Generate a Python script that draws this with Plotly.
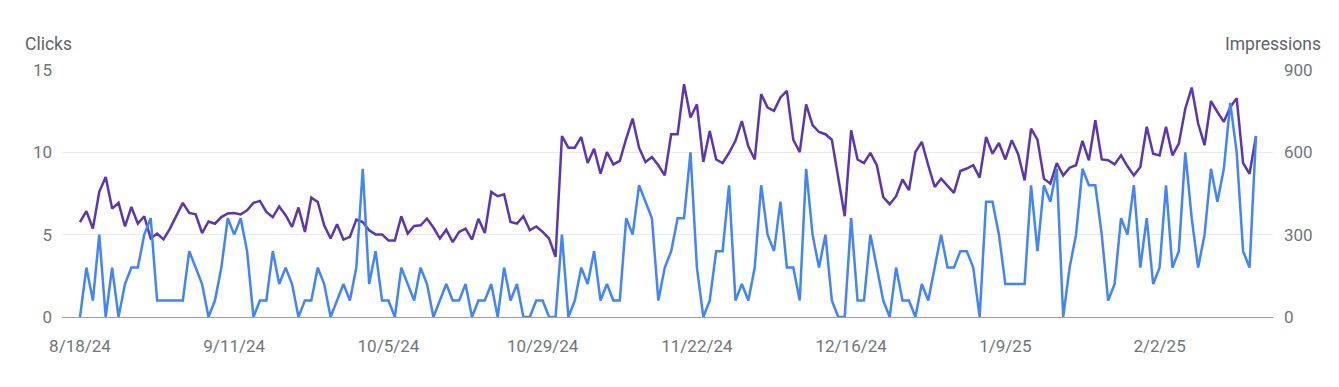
import pandas as pd
import plotly.graph_objects as go

start_date = "2024-08-18"
n_days = 184
dates = pd.date_range(start_date, periods=n_days)

clicks = [
    0, 3, 1, 5, 0, 3, 0, 2, 3, 3, 5, 6, 1, 1, 1, 1, 1, 4, 3, 2, 0, 1, 3, 6,
    5, 6, 4, 0, 1, 1, 4, 2, 3, 2, 0, 1, 1, 3, 2, 0, 1, 2, 1, 3, 9, 2, 4,
    1, 1, 0, 3, 2, 1, 3, 2, 0, 1, 2, 1, 1, 2, 0, 1, 1, 2, 0, 3, 1, 2, 0, 0,
    1, 1, 0, 0, 5, 0, 1, 3, 2, 4, 1, 2, 1, 1, 6, 5, 8, 7, 6, 1, 3, 4, 6,
    6, 10, 3, 0, 1, 4, 4, 8, 1, 2, 1, 3, 8, 5, 4, 7, 3, 3, 1, 9, 5, 3, 5,
    1, 0, 0, 6, 1, 1, 5, 3, 1, 0, 3, 1, 1, 0, 2, 1, 3, 5, 3, 3, 4, 4, 3, 0,
    7, 7, 5, 2, 2, 2, 2, 8, 4, 8, 7, 9, 0, 3, 5, 9, 8, 8, 5, 1, 2, 6, 5,
    8, 3, 6, 2, 3, 8, 3, 4, 10, 6, 3, 5, 9, 7, 9, 13, 10, 4, 3, 11,
]

impressions = [
    346, 386, 322, 456, 510, 395, 416, 330, 401, 340, 367, 286, 304, 283, 322, 371, 416, 379, 374, 306, 348, 340, 364, 377,
    379, 374, 389, 416, 423, 383, 364, 403, 371, 328, 399, 310, 435, 419, 334, 286, 338, 282, 292, 355, 346, 316, 301,
    301, 279, 279, 367, 304, 332, 334, 358, 326, 286, 318, 273, 310, 322, 282, 358, 306, 456, 440, 447, 346, 340, 367, 316,
    330, 310, 286, 219, 659, 617, 617, 656, 561, 613, 522, 601, 556, 569, 650, 723, 617, 565, 583, 553, 516, 666, 666,
    848, 727, 775, 565, 678, 574, 561, 598, 642, 714, 622, 574, 812, 763, 751, 800, 824, 646, 601, 775, 699, 674, 666,
    646, 504, 367, 680, 574, 561, 598, 553, 437, 411, 440, 501, 462, 601, 638, 553, 474, 504, 476, 452, 532, 541, 553, 508,
    656, 595, 634, 574, 644, 593, 498, 686, 646, 504, 486, 561, 516, 544, 553, 642, 571, 717, 574, 571, 556, 589, 549,
    516, 547, 693, 595, 589, 693, 589, 632, 759, 836, 705, 626, 787, 747, 711, 765, 797, 561, 522, 659,
]

tick_dates = ["2024-08-18", "2024-09-11", "2024-10-05", "2024-10-29",
              "2024-11-22", "2024-12-16", "2025-01-09", "2025-02-02"]
tick_labels = ["8/18/24", "9/11/24", "10/5/24", "10/29/24",
               "11/22/24", "12/16/24", "1/9/25", "2/2/25"]

click_ticks = [0, 5, 10, 15]
impression_ticks = [0, 300, 600, 900]

BLUE = "#4285F4"
PURPLE = "#5E35B1"
TICK_COLOR = "#70757a"
TITLE_COLOR = "#5f6368"
FONT = "Roboto"

# the page body has an 8px margin; the figure is laid out to compensate
PAGE_OFF = 8
L, T = 62 - PAGE_OFF, 70 - PAGE_OFF
PLOT_W, PLOT_H = 1211, 247
W, H = 1339, 387
R = W - L - PLOT_W
B = H - T - PLOT_H

fig = go.Figure()
fig.add_trace(go.Scatter(
    x=dates, y=impressions, mode="lines", name="Impressions",
    line=dict(color=PURPLE, width=2.5), yaxis="y",
))
fig.add_trace(go.Scatter(
    x=dates, y=clicks, mode="lines", name="Clicks",
    line=dict(color=BLUE, width=2.5), yaxis="y2",
))

title_y = 1 + (T - (44 - PAGE_OFF)) / PLOT_H

fig.update_layout(
    width=W, height=H,
    margin=dict(l=L, r=R, t=T, b=B, pad=0),
    paper_bgcolor="white", plot_bgcolor="white",
    showlegend=False,
    font=dict(family=FONT, size=17, color=TICK_COLOR),
    xaxis=dict(
        type="date",
        range=["2024-08-15 04:48", "2025-02-19 15:36"],
        tickvals=tick_dates, ticktext=tick_labels,
        showgrid=False, zeroline=False, showline=False,
        ticks="", ticklabelstandoff=17,
        tickfont=dict(family=FONT, size=17, color=TICK_COLOR),
    ),
    yaxis=dict(
        side="right", range=[0, 900], tickvals=impression_ticks,
        showgrid=True, gridcolor="#ebebeb", gridwidth=1,
        zeroline=True, zerolinecolor="#9e9e9e", zerolinewidth=1,
        showline=False, ticks="", ticklabelstandoff=10,
        tickfont=dict(family=FONT, size=17, color=TICK_COLOR),
    ),
    yaxis2=dict(
        side="left", overlaying="y", range=[0, 15], tickvals=click_ticks,
        showgrid=False, zeroline=False, showline=False,
        ticks="", ticklabelstandoff=9,
        tickfont=dict(family=FONT, size=17, color=TICK_COLOR),
    ),
    annotations=[
        dict(text="Clicks", xref="paper", yref="paper",
             x=((23 - PAGE_OFF) - L) / PLOT_W, y=title_y,
             xanchor="left", yanchor="middle", showarrow=False,
             font=dict(family=FONT, size=17.5, color=TITLE_COLOR)),
        dict(text="Impressions", xref="paper", yref="paper",
             x=((1323 - PAGE_OFF) - L) / PLOT_W, y=title_y,
             xanchor="right", yanchor="middle", showarrow=False,
             font=dict(family=FONT, size=17.5, color=TITLE_COLOR)),
    ],
)

fig.write_html("out.html")
